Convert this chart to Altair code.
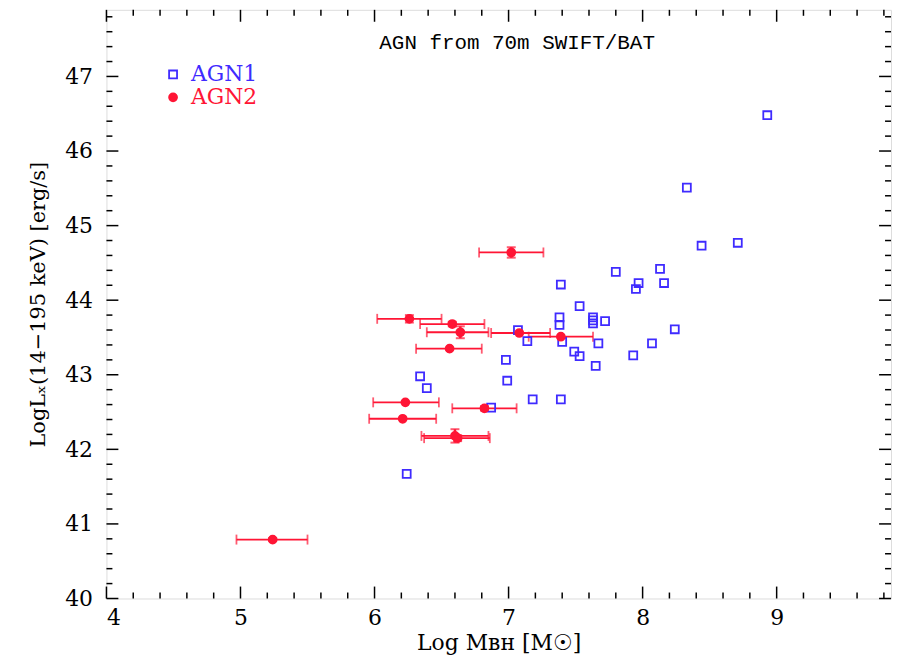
import altair as alt
import pandas as pd

# ---------------- data ----------------
agn1_x = [8.93, 8.33, 8.44, 8.71, 7.80, 8.13, 7.97, 7.95, 8.16, 7.72, 8.24, 7.67,
          8.07, 7.93, 7.65, 7.39, 7.53, 7.38, 7.38, 7.63, 7.63, 7.63, 7.07, 7.14,
          7.40, 7.49, 7.53, 6.98, 6.99, 6.34, 6.39, 7.18, 7.39, 6.87, 6.24]
agn1_y = [46.48, 45.51, 44.73, 44.77, 44.38, 44.42, 44.23, 44.15, 44.23, 43.72, 43.61, 43.42,
          43.42, 43.26, 43.12, 44.21, 43.92, 43.77, 43.67, 43.77, 43.73, 43.69, 43.60, 43.45,
          43.44, 43.31, 43.25, 43.20, 42.92, 42.98, 42.82, 42.67, 42.67, 42.56, 41.67]

agn2_x = [7.02, 6.26, 6.58, 6.64, 7.08, 7.39, 6.56, 6.23, 6.21, 6.82, 6.60, 6.62, 5.24]
agn2_y = [44.64, 43.75, 43.68, 43.57, 43.56, 43.51, 43.35, 42.63, 42.41, 42.55, 42.18, 42.15, 40.79]
agn2_xlo = [6.78, 6.02, 6.34, 6.39, 6.87, 7.15, 6.31, 5.99, 5.96, 6.58, 6.35, 6.37, 4.97]
agn2_xhi = [7.26, 6.50, 6.82, 6.85, 7.31, 7.63, 6.80, 6.48, 6.46, 7.06, 6.85, 6.86, 5.50]
agn2_yerr = [0.07, 0.05, 0.03, 0.08, 0.0, 0.0, 0.0, 0.0, 0.0, 0.03, 0.09, 0.04, 0.02]

series_names = ["AGN1", "AGN2"]

x_major = [4, 5, 6, 7, 8, 9]
x_minor = [round(4 + 0.2 * i, 1) for i in range(30) if i % 5 != 0]
y_major = [40, 41, 42, 43, 44, 45, 46, 47]
y_minor = [round(40 + 0.2 * i, 1) for i in range(40) if i % 5 != 0]

title_text = "AGN from 70m SWIFT/BAT"
x_title = "Log M\u0299\u029c [M\u2609]"
y_title = "LogL\u2093(14\u2212195 keV) [erg/s]"

# ---------------- styles ----------------
W, H = 789, 592
XDOM = [4, 4 + W / 134.8]
YDOM = [40, 40 + H / 75.0]
BLUE = "#3f2bff"
RED = "#ff1535"
SERIF = "DejaVu Serif"

xs = alt.Scale(domain=XDOM, nice=False, zero=False)
ys = alt.Scale(domain=YDOM, nice=False, zero=False)

pts = pd.DataFrame({
    "x": agn1_x + agn2_x,
    "y": agn1_y + agn2_y,
    "type": [series_names[0]] * len(agn1_x) + [series_names[1]] * len(agn2_x),
})
err = pd.DataFrame({"x": agn2_x, "y": agn2_y, "xlo": agn2_xlo, "xhi": agn2_xhi,
                    "ylo": [a - b for a, b in zip(agn2_y, agn2_yerr)],
                    "yhi": [a + b for a, b in zip(agn2_y, agn2_yerr)],
                    "ye": agn2_yerr})
yerr_df = err[err["ye"] > 0]

xaxis = alt.Axis(ticks=False, domain=False, grid=False, values=x_major, format="d",
                 labelFont=SERIF, labelFontSize=22, labelColor="black", labelPadding=9,
                 title=x_title, titleFont=SERIF, titleFontSize=22, titleFontWeight="normal",
                 titleColor="black", titlePadding=4)
yaxis = alt.Axis(ticks=False, domain=False, grid=False, values=y_major, format="d",
                 labelFont=SERIF, labelFontSize=22, labelColor="black", labelPadding=14,
                 title=y_title, titleFont=SERIF, titleFontSize=21, titleFontWeight="normal",
                 titleColor="black", titlePadding=16)

base = alt.Chart(pts)

# empty-axis carrier layer
axes_layer = alt.Chart(pts).mark_point(opacity=0).encode(
    x=alt.X("x:Q", scale=xs, axis=xaxis),
    y=alt.Y("y:Q", scale=ys, axis=yaxis),
)

def xticks(vals, length):
    d = pd.DataFrame({"v": vals})
    b = alt.Chart(d).mark_rule(color="black", strokeWidth=1.5)
    bottom = b.encode(x=alt.X("v:Q", scale=xs), y=alt.value(H), y2=alt.value(H - length))
    top = b.encode(x=alt.X("v:Q", scale=xs), y=alt.value(0), y2=alt.value(length))
    return [bottom, top]

def yticks(vals, length):
    d = pd.DataFrame({"v": vals})
    b = alt.Chart(d).mark_rule(color="black", strokeWidth=1.5)
    left = b.encode(y=alt.Y("v:Q", scale=ys), x=alt.value(0), x2=alt.value(length))
    right = b.encode(y=alt.Y("v:Q", scale=ys), x=alt.value(W), x2=alt.value(W - length))
    return [left, right]

tick_layers = xticks(x_major, 12) + xticks(x_minor, 6) + yticks(y_major, 12) + yticks(y_minor, 6)

eb = alt.Chart(err)
xbar = eb.mark_rule(color=RED, strokeWidth=1.8).encode(
    x=alt.X("xlo:Q", scale=xs), x2="xhi:Q", y=alt.Y("y:Q", scale=ys))
cap_lo = eb.mark_tick(color=RED, orient="vertical", size=10, thickness=1.8).encode(
    x=alt.X("xlo:Q", scale=xs), y=alt.Y("y:Q", scale=ys))
cap_hi = eb.mark_tick(color=RED, orient="vertical", size=10, thickness=1.8).encode(
    x=alt.X("xhi:Q", scale=xs), y=alt.Y("y:Q", scale=ys))
ey = alt.Chart(yerr_df)
ybar = ey.mark_rule(color=RED, strokeWidth=2.5).encode(
    x=alt.X("x:Q", scale=xs), y=alt.Y("ylo:Q", scale=ys), y2="yhi:Q")
ycap_lo = ey.mark_tick(color=RED, orient="horizontal", size=9, thickness=2).encode(
    x=alt.X("x:Q", scale=xs), y=alt.Y("ylo:Q", scale=ys))
ycap_hi = ey.mark_tick(color=RED, orient="horizontal", size=9, thickness=2).encode(
    x=alt.X("x:Q", scale=xs), y=alt.Y("yhi:Q", scale=ys))

legend = alt.Legend(
    title=None, orient="none", legendX=56, legendY=54, padding=0,
    labelFont=SERIF, labelFontSize=22, symbolSize=64, symbolStrokeWidth=1.8,
    rowPadding=1, labelOffset=7, symbolOffset=0,
    labelColor={"expr": f"datum.label == 'AGN1' ? '{BLUE}' : '{RED}'"},
)

points = base.mark_point(strokeWidth=1.8, size=64, opacity=1).encode(
    x=alt.X("x:Q", scale=xs),
    y=alt.Y("y:Q", scale=ys),
    shape=alt.Shape("type:N", scale=alt.Scale(domain=series_names, range=["square", "circle"]), legend=legend),
    color=alt.Color("type:N", scale=alt.Scale(domain=series_names, range=[BLUE, RED]), legend=legend),
    fill=alt.Fill("type:N", scale=alt.Scale(domain=series_names, range=["transparent", RED]), legend=legend),
)

title_layer = alt.Chart(pd.DataFrame({"t": [title_text]})).mark_text(
    font="Liberation Mono", fontSize=21, color="black", align="center", baseline="middle"
).encode(x=alt.value(413), y=alt.value(33), text="t:N")

chart = alt.layer(
    axes_layer, *tick_layers, xbar, cap_lo, cap_hi, ybar, ycap_lo, ycap_hi, points, title_layer
).properties(
    width=W, height=H,
    autosize=alt.AutoSizeParams(type="none"),
    padding={"left": 99, "top": 0, "right": 1, "bottom": 58},
).configure_view(stroke="black", strokeWidth=2).configure(background="white")

chart.save("out.html", embed_options={"renderer": "svg", "actions": False})
